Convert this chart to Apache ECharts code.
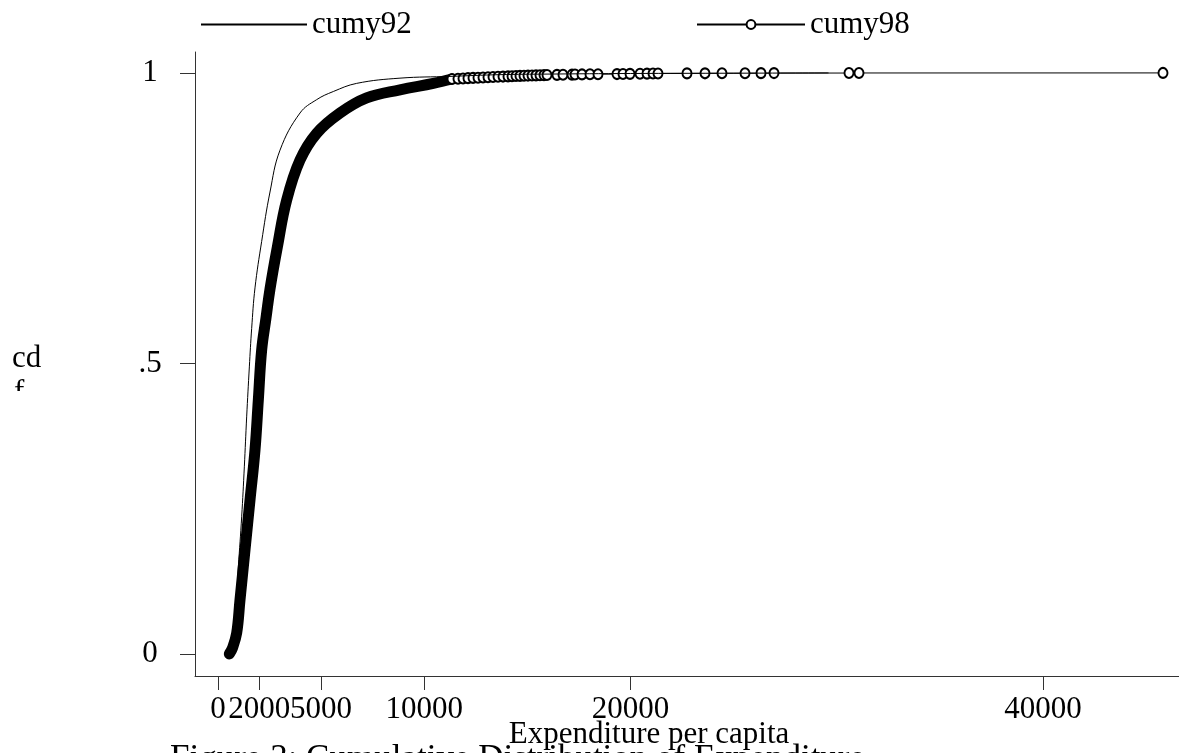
<!DOCTYPE html>
<html>
<head>
<meta charset="utf-8">
<script src="https://cdn.jsdelivr.net/npm/echarts@6/dist/echarts.min.js"></script>
<style>
html, body { margin: 0; padding: 0; background: #fff; }
#main { width: 1179px; height: 753px; }
</style>
</head>
<body>
<div id="main"></div>
<script>
// cumy92 : thin line
var x92 = [300, 550, 824, 986, 1148, 1277, 1390, 1520, 1632, 1794, 2117, 2521, 3006, 3976, 4784, 5592, 6723, 8824, 11248, 13673, 16000, 20000, 25000, 29600];
var y92 = [0, 0.012, 0.064, 0.150, 0.236, 0.322, 0.408, 0.494, 0.560, 0.630, 0.710, 0.795, 0.867, 0.931, 0.954, 0.968, 0.982, 0.991, 0.994, 0.997, 0.998, 0.999, 0.9995, 1];

// cumy98 : dense part (circles merge into a solid band)
var x98dense = [549, 700, 906, 1067, 1309, 1552, 1794, 1955, 2117, 2327, 2521, 2876, 3329, 3976, 4784, 5915, 7208, 8824, 10440, 11345];
var y98dense = [0, 0.010, 0.036, 0.093, 0.179, 0.265, 0.351, 0.437, 0.523, 0.578, 0.628, 0.700, 0.781, 0.850, 0.896, 0.931, 0.957, 0.971, 0.982, 0.9895];

// cumy98 : sparse tail, single circles
var x98tail = [11345, 11636, 11879, 12121, 12364, 12606, 12848, 13091, 13333, 13576, 13818, 14061, 14255, 14448, 14642, 14836, 15030, 15224, 15418, 15612, 15806, 15952, 16436, 16727, 17164, 17309, 17648, 18036, 18424, 19345, 19636, 19976, 20461, 20800, 21091, 21333, 22739, 23612, 24436, 25552, 26327, 26958, 30594, 31079, 45818];
var y98tail = [0.9895, 0.9900, 0.9905, 0.9910, 0.9914, 0.9918, 0.9922, 0.9926, 0.9930, 0.9934, 0.9937, 0.9940, 0.9943, 0.9946, 0.9949, 0.9952, 0.9954, 0.9956, 0.9958, 0.9960, 0.9962, 0.9964, 0.9966, 0.9968, 0.9970, 0.9972, 0.9974, 0.9976, 0.9978, 0.9980, 0.9982, 0.9984, 0.9986, 0.9988, 0.9990, 0.9991, 0.9992, 0.9993, 0.9994, 0.9995, 0.9996, 0.9997, 0.9998, 0.9999, 1];

var xTicks = [0, 2000, 5000, 10000, 20000, 40000];
var yTicks = [0, 0.5, 1];
var yTickLabels = ['0', '.5', '1'];

function pairs(xs, ys) {
  var out = [];
  for (var i = 0; i < xs.length; i++) {
    out.push([xs[i], ys[i]]);
  }
  return out;
}

var serif = 'Liberation Serif';
var axisColor = '#333';

var myChart = echarts.init(document.getElementById('main'));
var option = {
  animation: false,
  backgroundColor: '#fff',
  textStyle: { fontFamily: serif, color: '#000' },
  legend: [{
    data: ['cumy92'],
    left: 195, top: 4,
    itemWidth: 106, itemHeight: 11,
    textStyle: { fontFamily: serif, fontSize: 31, color: '#000' }
  }, {
    data: ['cumy98'],
    left: 691, top: 4,
    itemWidth: 108, itemHeight: 11,
    textStyle: { fontFamily: serif, fontSize: 31, color: '#000' }
  }],
  grid: { left: 195, right: 0, top: 52, bottom: 77, outerBoundsMode: 'none', containLabel: false },
  xAxis: {
    type: 'value',
    min: -1115, max: 46594,
    splitLine: { show: false },
    axisLine: { onZero: false, lineStyle: { color: axisColor, width: 1 } },
    axisTick: { customValues: xTicks, length: 14, lineStyle: { color: axisColor } },
    axisLabel: {
      customValues: xTicks, margin: 18, hideOverlap: false,
      showMinLabel: true, showMaxLabel: true,
      fontFamily: serif, fontSize: 31, color: '#000',
      formatter: function (v) { return String(v); }
    }
  },
  yAxis: {
    type: 'value',
    min: -0.038, max: 1.036,
    splitLine: { show: false },
    axisLine: { show: true, onZero: false, lineStyle: { color: axisColor, width: 1 } },
    axisTick: { show: true, customValues: yTicks, length: 15, lineStyle: { color: axisColor } },
    axisLabel: {
      customValues: yTicks, margin: 45, align: 'center',
      fontFamily: serif, fontSize: 31, color: '#000',
      formatter: function (v) {
        return yTickLabels[yTicks.indexOf(v)];
      }
    }
  },
  graphic: [
    { type: 'text', left: 12, top: 343, z: 10,
      style: { text: 'cd', fontFamily: serif, fontSize: 31, fill: '#000' } },
    { type: 'text', left: 14, top: 377, z: 10,
      style: { text: 'f', fontFamily: serif, fontSize: 31, fill: '#000' } },
    { type: 'rect', left: 0, top: 391, z: 11,
      shape: { width: 60, height: 40 }, style: { fill: '#fff' } },
    // x axis title, sits a little left of the axis centre
    { type: 'text', x: 649, y: 735, z: 12,
      style: { text: 'Expenditure per capita', fontFamily: serif, fontSize: 31, fill: '#000',
        align: 'center', verticalAlign: 'middle' } },
    { type: 'text', left: 170, top: 742, z: 10,
      style: { text: 'Figure 3: Cumulative Distribution of Expenditure', fontFamily: serif, fontSize: 35, fill: '#000' } }
  ],
  series: [{
    name: 'cumy92',
    type: 'line',
    data: pairs(x92, y92),
    showSymbol: false,
    symbol: 'none',
    smooth: 0.4,
    lineStyle: { color: '#000', width: 1 },
    itemStyle: { color: '#000', opacity: 0 },
    z: 3
  }, {
    name: 'cumy98',
    type: 'line',
    data: pairs(x98tail, y98tail),
    symbol: 'emptyCircle',
    symbolSize: [9, 10],
    showSymbol: true,
    showAllSymbol: true,
    lineStyle: { color: '#000', width: 1 },
    itemStyle: { color: '#000', borderColor: '#000', borderWidth: 1 },
    z: 2
  }, {
    name: 'cumy98',
    type: 'line',
    data: pairs(x98dense, y98dense),
    showSymbol: false,
    symbol: 'none',
    smooth: 0.4,
    lineStyle: { color: '#000', width: 11, cap: 'round', join: 'round' },
    itemStyle: { color: '#000' },
    z: 2
  }]
};
myChart.setOption(option);
</script>
</body>
</html>
